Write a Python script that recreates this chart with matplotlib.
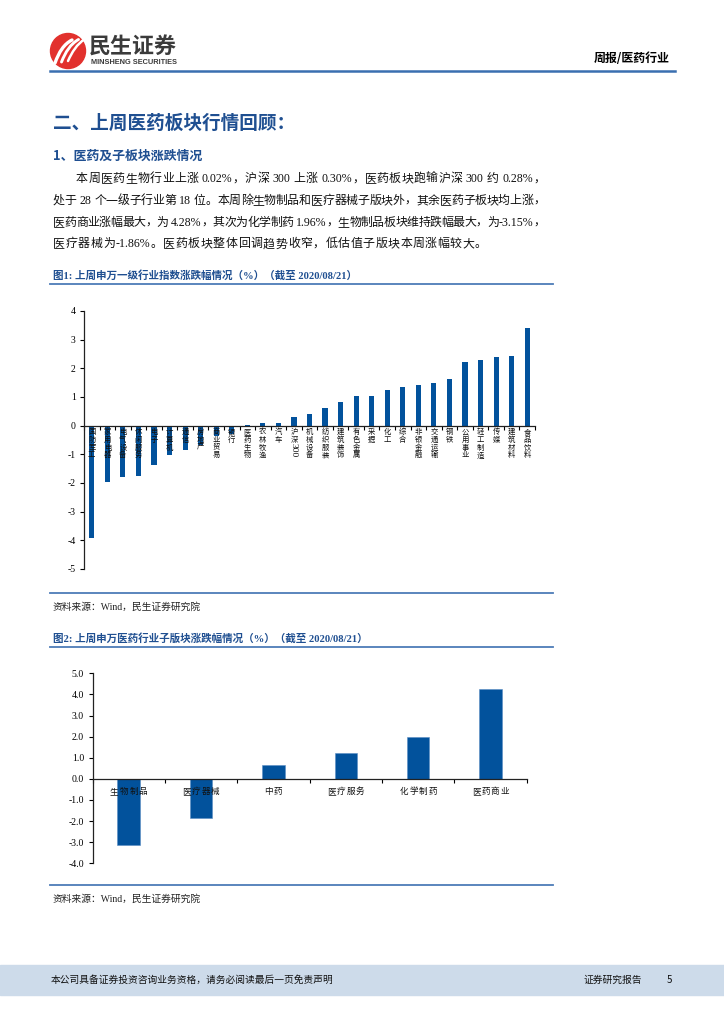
import re
import numpy as np
import matplotlib
matplotlib.use("Agg")
import matplotlib.pyplot as plt
from matplotlib.patches import Circle, Rectangle, PathPatch
from matplotlib.path import Path

# page size in pixels (dpi 100)
W, H = 724, 1024

# chart 1: SW level-1 industries, weekly change (%)
sw1_names = ['国防军工', '家用电器', '电气设备', '休闲服务', '电子', '计算机', '通信', '房地产',
             '商业贸易', '银行', '医药生物', '农林牧渔', '汽车', '沪深300', '机械设备', '纺织服装',
             '建筑装饰', '有色金属', '采掘', '化工', '综合', '非银金融', '交通运输', '钢铁',
             '公用事业', '轻工制造', '传媒', '建筑材料', '食品饮料']
sw1_change = [-3.91, -1.97, -1.80, -1.77, -1.38, -1.03, -0.86, -0.69, -0.36, -0.29,
              0.02, 0.10, 0.10, 0.30, 0.42, 0.60, 0.81, 1.04, 1.05, 1.25,
              1.35, 1.41, 1.49, 1.63, 2.22, 2.28, 2.40, 2.42, 3.39]
sw1_yticks = [-5, -4, -3, -2, -1, 0, 1, 2, 3, 4]

# chart 2: pharma sub-sectors, weekly change (%)
sub_names = ['生物制品', '医疗器械', '中药', '医疗服务', '化学制药', '医药商业']
sub_change = [-3.15, -1.86, 0.65, 1.23, 1.96, 4.28]
sub_yticks = [-4.0, -3.0, -2.0, -1.0, 0.0, 1.0, 2.0, 3.0, 4.0, 5.0]

paragraph = [
    "本周医药生物行业上涨 0.02%，沪深 300 上涨 0.30%，医药板块跑输沪深 300 约 0.28%，",
    "处于 28 个一级子行业第 18 位。本周除生物制品和医疗器械子版块外，其余医药子板块均上涨，",
    "医药商业涨幅最大，为 4.28%，其次为化学制药 1.96%，生物制品板块维持跌幅最大，为-3.15%，",
    "医疗器械为-1.86%。医药板块整体回调趋势收窄，低估值子版块本周涨幅较大。",
]

BLUE = '#02529c'
TITLE_BLUE = '#1f4f91'
LINE_BLUE = '#4d7cb8'
CJK = ['Noto Sans CJK SC', 'DejaVu Sans']
SERIF = ['Liberation Serif', 'Noto Sans CJK SC']

fig = plt.figure(figsize=(W / 100, H / 100), dpi=100)
bg = fig.add_axes([0, 0, 1, 1])
bg.set_xlim(0, W)
bg.set_ylim(H, 0)
bg.axis('off')
renderer = fig.canvas.get_renderer()


def justify(s, x0, x1, y, last=False, size=8.6, color='#111111'):
    # lay out one line token by token, spreading leftover space (like a justified paragraph)
    toks = re.findall(r'[\x00-\x7f]+|.', s)
    base = y + size * 100 / 72 * 0.36
    objs, widths = [], []
    for t in toks:
        core = t.strip()
        fam = ['Liberation Serif'] if t.isascii() else CJK
        o = bg.text(0, base, core, va='baseline', ha='left', fontsize=size, family=fam, color=color)
        w = o.get_window_extent(renderer).width if core else 0
        w += (len(t) - len(core)) * 3.0
        lead = (len(t) - len(t.lstrip())) * 3.0
        objs.append((o, lead))
        widths.append(w)
    gap = 0.6 if last else (x1 - x0 - sum(widths)) / (len(toks) - 1)
    x = x0
    for (o, lead), w in zip(objs, widths):
        o.set_x(x + lead)
        x += w + gap


# ---- header / logo
bg.add_patch(Circle((68, 51), 17.5, color='#e2312d', zorder=2))
for k in range(3):
    x0 = 55 + k * 6.5
    verts = [(x0, 63 - k), (x0 + 4, 52), (x0 + 9, 44), (x0 + 17, 40 - k * 0.5)]
    p = Path(verts, [Path.MOVETO, Path.CURVE4, Path.CURVE4, Path.CURVE4])
    bg.add_patch(PathPatch(p, fill=False, ec='white', lw=2.4 - k * 0.3, capstyle='round', zorder=3))
bg.text(89, 47, '民生证券', fontsize=15.8, weight='bold', color='#3b3b3b', family=CJK, va='center')
bg.text(91, 62.5, 'MINSHENG SECURITIES', fontsize=5.3, weight='bold', color='#3b3b3b',
        family=['Liberation Sans'], va='center')
bg.text(670, 59, '周报/医药行业', fontsize=8.6, weight='bold', color='black', family=CJK,
        ha='right', va='center')
bg.plot([50, 675], [71, 71], color='#3a6fb0', lw=1.8)

bg.text(53, 123, '二、上周医药板块行情回顾：', fontsize=13.4, weight='bold', color=TITLE_BLUE,
        family=CJK, va='center')
bg.text(53, 156, '1、医药及子板块涨跌情况', fontsize=9.3, weight='bold', color=TITLE_BLUE,
        family=CJK, va='center')

for i, line in enumerate(paragraph):
    x0 = 76 if i == 0 else 53
    justify(line, x0, 545, 178 + i * 21.7, last=(i == len(paragraph) - 1))

# ---- captions, rules, sources
bg.text(53, 275, '图1: 上周申万一级行业指数涨跌幅情况（%）（截至 2020/08/21）', fontsize=7.6,
        weight='bold', color=TITLE_BLUE, family=SERIF, va='center')
bg.plot([50, 553], [284, 284], color=LINE_BLUE, lw=1.3)
bg.plot([50, 553], [593, 593], color=LINE_BLUE, lw=1.3)
bg.text(53, 607, '资料来源：Wind，民生证券研究院', fontsize=7, color='#222222', family=SERIF, va='center')

bg.text(53, 638, '图2: 上周申万医药行业子版块涨跌幅情况（%）（截至 2020/08/21）', fontsize=7.6,
        weight='bold', color=TITLE_BLUE, family=SERIF, va='center')
bg.plot([50, 553], [647, 647], color=LINE_BLUE, lw=1.3)
bg.plot([50, 553], [885, 885], color=LINE_BLUE, lw=1.3)
bg.text(53, 899, '资料来源：Wind，民生证券研究院', fontsize=7, color='#222222', family=SERIF, va='center')

# ---- footer band
bg.add_patch(Rectangle((0, 965), W, 30, color='#cddbea', zorder=0))
bg.text(51, 980, '本公司具备证券投资咨询业务资格，请务必阅读最后一页免责声明', fontsize=7,
        color='#111111', family=CJK, va='center')
bg.text(583, 980, '证券研究报告', fontsize=7, color='#111111', family=CJK, va='center')
bg.text(669, 980, '5', fontsize=7, color='#111111', family=CJK, va='center', ha='center')


def style_axis(ax, n):
    ax.set_facecolor('none')
    ax.spines['top'].set_visible(False)
    ax.spines['right'].set_visible(False)
    ax.spines['bottom'].set_position(('data', 0))
    for s in ('left', 'bottom'):
        ax.spines[s].set_linewidth(0.9)
        ax.spines[s].set_color('#222222')
    ax.set_xlim(-0.5, n - 0.5)
    ax.set_xticks(np.arange(-0.5, n, 1))
    ax.tick_params(axis='x', direction='out', length=3, width=0.8, labelbottom=False)
    ax.tick_params(axis='y', direction='out', length=3, width=0.8, pad=3, labelsize=7)
    for lab in ax.get_yticklabels():
        lab.set_family(SERIF)


def vertical_label(ax, x, s, size=5.3):
    # stacked characters under the zero line; runs of digits are turned sideways
    off = 1.5
    for tok in re.findall(r'[0-9A-Za-z]+|.', s):
        if tok.isascii():
            ax.annotate(tok, xy=(x, 0), xytext=(0, -off), textcoords='offset points', rotation=-90,
                        ha='center', va='top', fontsize=size + 1.5, family=SERIF, color='#111111')
            off += len(tok) * (size + 1.5) * 0.5 + 0.5
        else:
            ax.annotate(tok, xy=(x, 0), xytext=(0, -(off + size * 0.86)), textcoords='offset points',
                        ha='center', va='baseline', fontsize=size, family=CJK, color='#111111')
            off += 5.6


def spaced_label(ax, x, s, size=6.2, step=6.9):
    # horizontal label with loose letter spacing, centred on the category
    n = len(s)
    for k, ch in enumerate(s):
        dx = (k - (n - 1) / 2) * step
        ax.annotate(ch, xy=(x, 0), xytext=(dx, -9), textcoords='offset points', ha='center',
                    va='center', fontsize=size, family=CJK, color='#111111')


# ---- chart 1
ax1 = fig.add_axes([84 / W, 1 - 569 / H, 451 / W, 258 / H])
x1 = np.arange(len(sw1_names))
ax1.bar(x1, sw1_change, width=0.33, color=BLUE, zorder=1)
ax1.set_ylim(-5, 4)
ax1.set_yticks(sw1_yticks)
ax1.set_yticklabels([str(v) for v in sw1_yticks])
style_axis(ax1, len(sw1_names))
for i, name in enumerate(sw1_names):
    vertical_label(ax1, i, name)

# ---- chart 2
ax2 = fig.add_axes([92.5 / W, 1 - 863.3 / H, 434.2 / W, 190 / H])
x2 = np.arange(len(sub_names))
ax2.bar(x2, sub_change, width=0.31, color=BLUE, edgecolor='#5a8cc4', linewidth=0.4, zorder=1)
ax2.set_ylim(-4, 5)
ax2.set_yticks(sub_yticks)
ax2.set_yticklabels(['%.1f' % v for v in sub_yticks])
style_axis(ax2, len(sub_names))
for i, name in enumerate(sub_names):
    spaced_label(ax2, i, name)

fig.savefig('out.png', dpi=100)
